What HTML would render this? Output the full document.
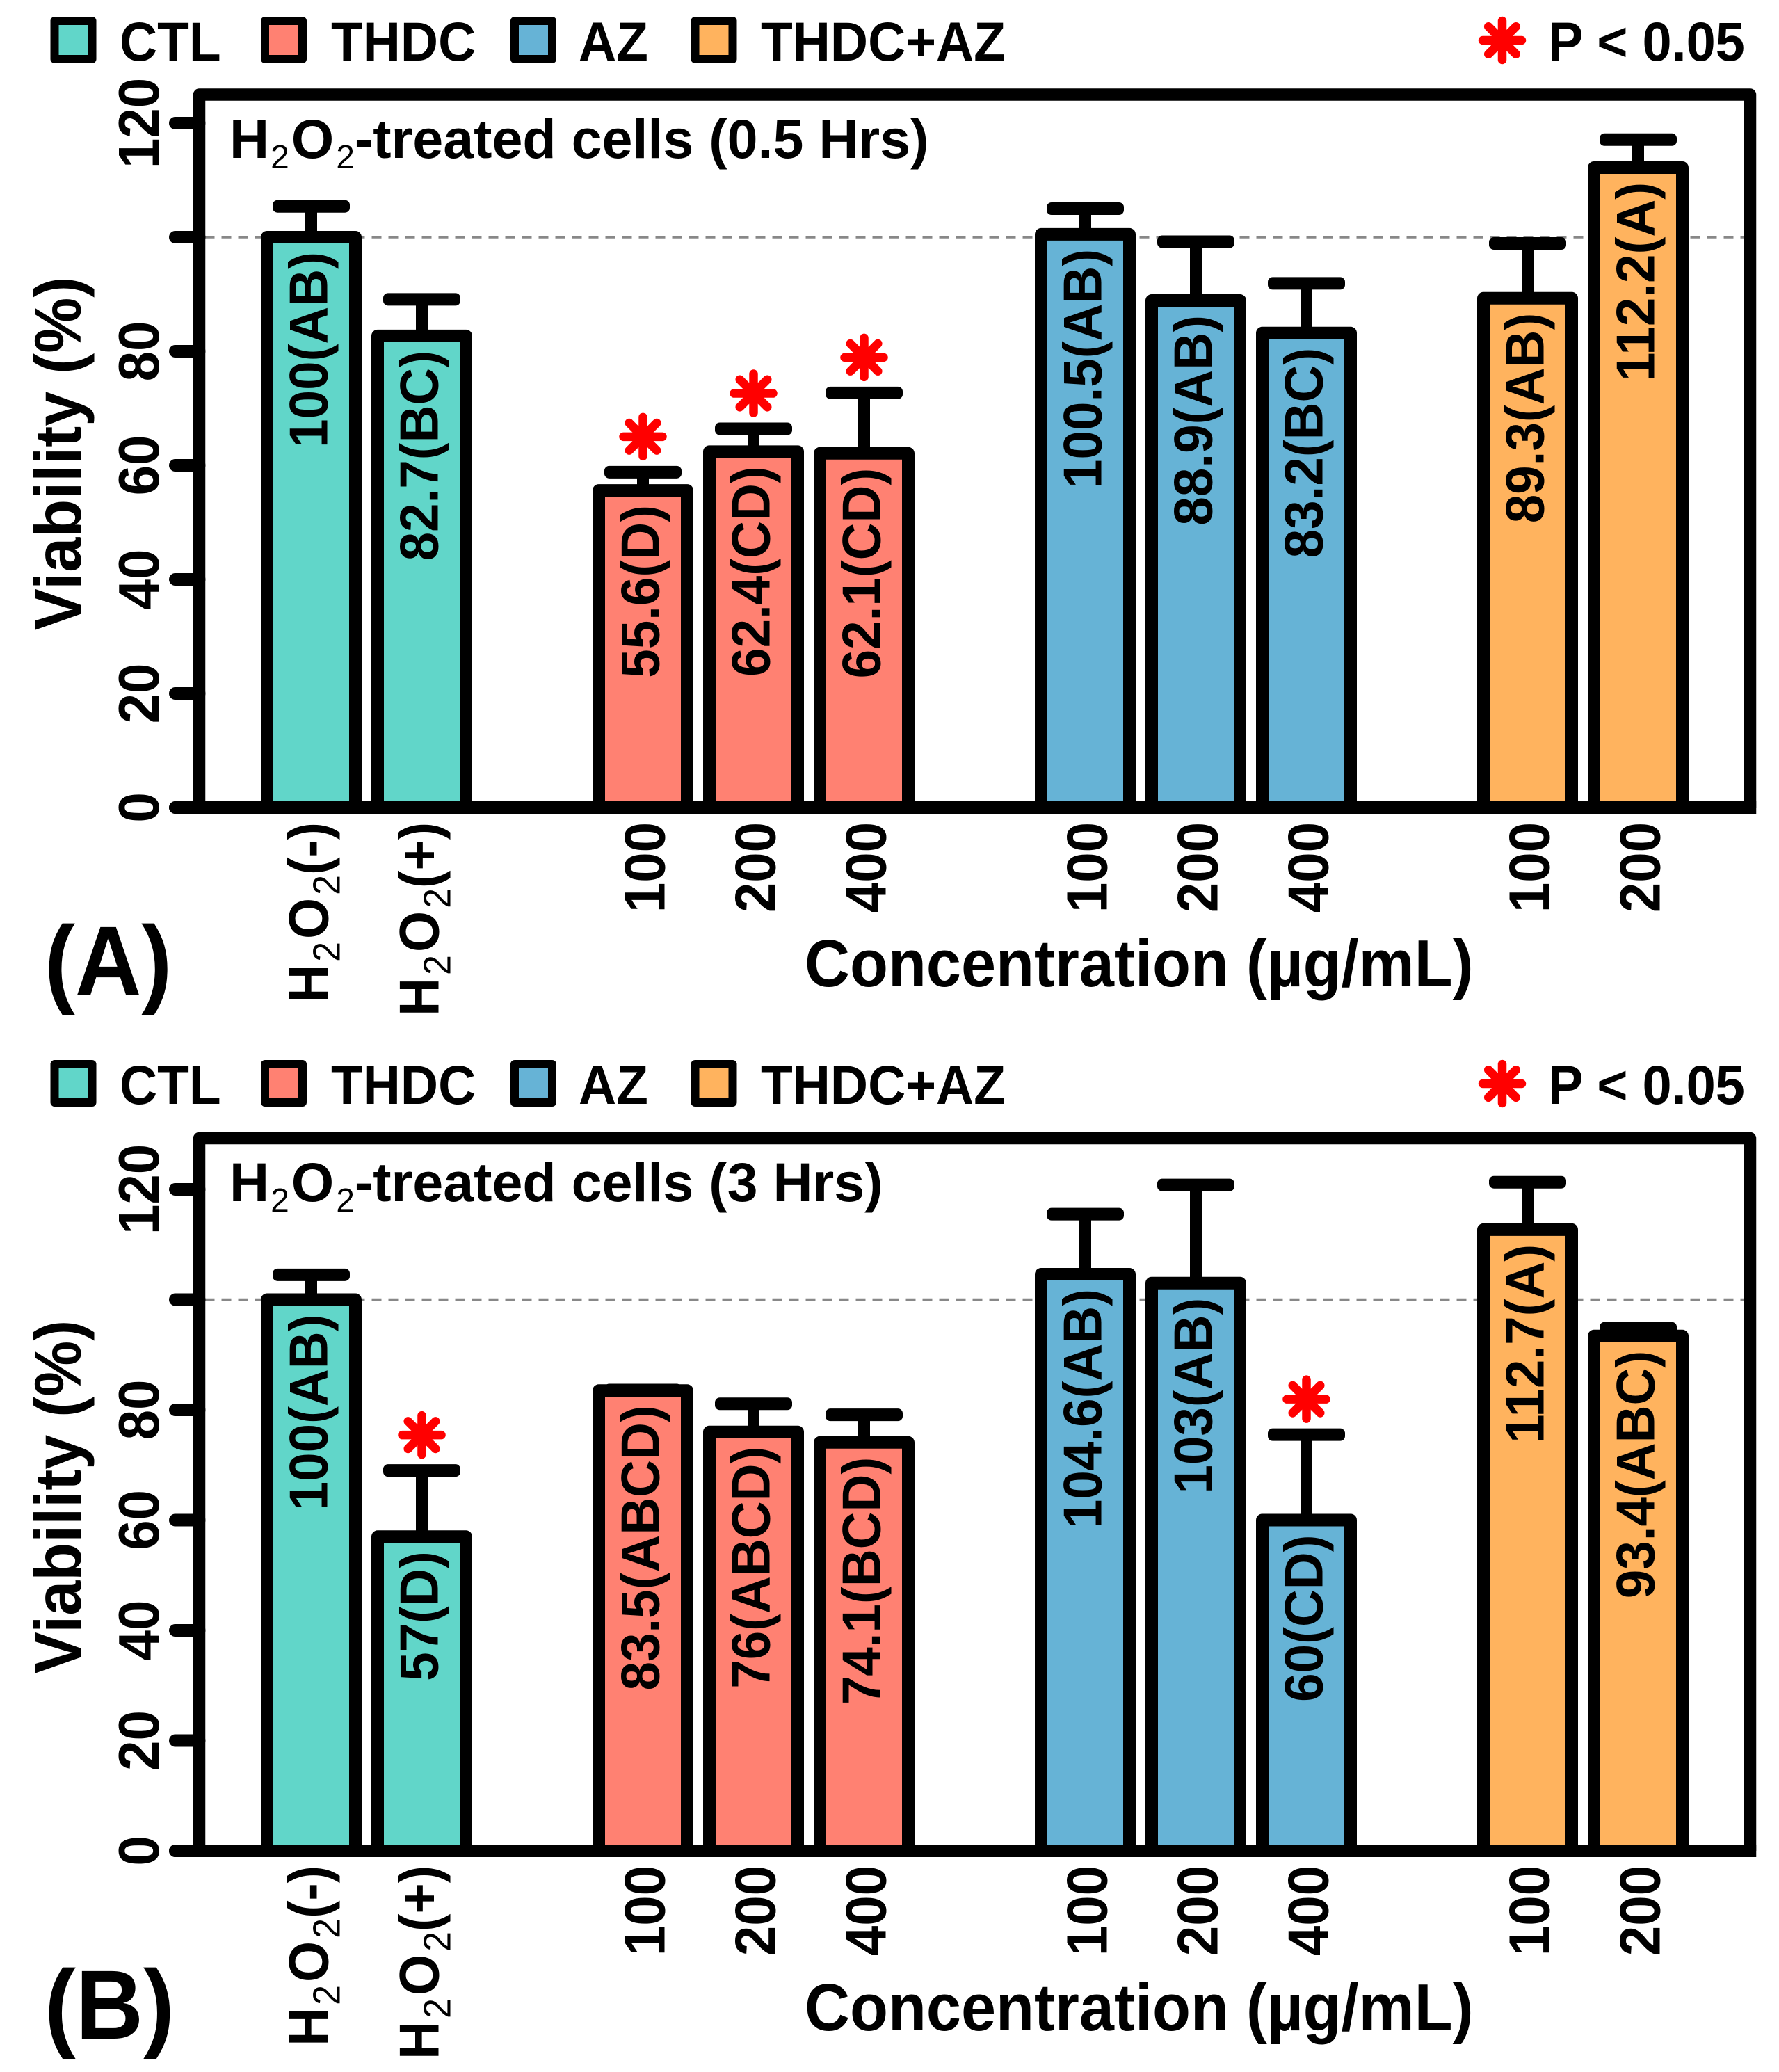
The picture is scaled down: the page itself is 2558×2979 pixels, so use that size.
<!DOCTYPE html>
<html lang="en">
<head>
<meta charset="utf-8">
<title>Viability of H2O2-treated cells</title>
<style>
html,body{margin:0;padding:0;background:#fff;}
svg{display:block;}
text{font-family:"Liberation Sans",Arial,sans-serif;font-weight:bold;fill:#000;}
.leg{font-size:78.5px;}
.ttl{font-size:79px;}
.sub{font-weight:normal;}
.axt{font-size:90px;}
.tag{font-size:132px;}
</style>
</head>
<body>
<svg id="figure" xmlns="http://www.w3.org/2000/svg" width="2558" height="2979" viewBox="0 0 2558 2979">
  <rect x="0" y="0" width="2558" height="2979" fill="#fff"/>

  <g id="panel-a"></g>
  <g id="panel-b"></g>

  <g id="legend-a">
    <rect x="78.5" y="30" width="54" height="55" fill="#61D6C9" stroke="#000" stroke-width="12" stroke-linejoin="round"/>
    <text class="leg" transform="translate(172 87) scale(.955 1)">CTL</text>
    <rect x="381" y="30" width="54" height="55" fill="#FF8172" stroke="#000" stroke-width="12" stroke-linejoin="round"/>
    <text class="leg" transform="translate(476 87) scale(.955 1)">THDC</text>
    <rect x="740" y="30" width="54" height="55" fill="#66B3D6" stroke="#000" stroke-width="12" stroke-linejoin="round"/>
    <text class="leg" transform="translate(832 87) scale(.955 1)">AZ</text>
    <rect x="999.5" y="30" width="54" height="55" fill="#FFB35E" stroke="#000" stroke-width="12" stroke-linejoin="round"/>
    <text class="leg" transform="translate(1094 87) scale(.955 1)">THDC+AZ</text>
    <text class="leg" transform="translate(2226 87) scale(.965 1)">P &lt; 0.05</text>
  </g>
  <g id="legend-b">
    <rect x="78.5" y="1530" width="54" height="55" fill="#61D6C9" stroke="#000" stroke-width="12" stroke-linejoin="round"/>
    <text class="leg" transform="translate(172 1587) scale(.955 1)">CTL</text>
    <rect x="381" y="1530" width="54" height="55" fill="#FF8172" stroke="#000" stroke-width="12" stroke-linejoin="round"/>
    <text class="leg" transform="translate(476 1587) scale(.955 1)">THDC</text>
    <rect x="740" y="1530" width="54" height="55" fill="#66B3D6" stroke="#000" stroke-width="12" stroke-linejoin="round"/>
    <text class="leg" transform="translate(832 1587) scale(.955 1)">AZ</text>
    <rect x="999.5" y="1530" width="54" height="55" fill="#FFB35E" stroke="#000" stroke-width="12" stroke-linejoin="round"/>
    <text class="leg" transform="translate(1094 1587) scale(.955 1)">THDC+AZ</text>
    <text class="leg" transform="translate(2226 1587) scale(.965 1)">P &lt; 0.05</text>
  </g>

  <text class="ttl" x="330" y="227">H<tspan class="sub" font-size="48" dx="2" dy="15">2</tspan><tspan dx="3" dy="-15">O</tspan><tspan class="sub" font-size="48" dx="3" dy="15">2</tspan><tspan dy="-15">-treated cells (0.5 Hrs)</tspan></text>
  <text class="ttl" x="330" y="1727">H<tspan class="sub" font-size="48" dx="2" dy="15">2</tspan><tspan dx="3" dy="-15">O</tspan><tspan class="sub" font-size="48" dx="3" dy="15">2</tspan><tspan dy="-15">-treated cells (3 Hrs)</tspan></text>

  <text class="axt" text-anchor="middle" transform="translate(116 652) rotate(-90) scale(1 1.05)">Viability (%)</text>
  <text class="axt" text-anchor="middle" transform="translate(116 2152) rotate(-90) scale(1 1.05)">Viability (%)</text>

  <text class="axt" transform="translate(1157 1418) scale(1 1.06)">Concentration (µg/mL)</text>
  <text class="axt" transform="translate(1157 2919) scale(1 1.06)">Concentration (µg/mL)</text>

  <text class="tag" transform="translate(64 1430) scale(1 1.07)">(A)</text>
  <text class="tag" transform="translate(64 2931) scale(1.02 1.07)">(B)</text>
</svg>

<script>
// ---- chart data ----
const categories = ["H2O2(-)", "H2O2(+)", "100", "200", "400", "100", "200", "400", "100", "200"];
const treatmentGroups = ["CTL", "CTL", "THDC", "THDC", "THDC", "AZ", "AZ", "AZ", "THDC+AZ", "THDC+AZ"];

const barValuesA = [100, 82.7, 55.6, 62.4, 62.1, 100.5, 88.9, 83.2, 89.3, 112.2];
const errorTopsA = [105.4, 89.1, 58.8, 66.4, 72.7, 105, 99.2, 91.9, 98.9, 117.1];
const lettersA = ["AB", "BC", "D", "CD", "CD", "AB", "AB", "BC", "AB", "A"];
const significantA = [0, 0, 1, 1, 1, 0, 0, 0, 0, 0];

const barValuesB = [100, 57, 83.5, 76, 74.1, 104.6, 103, 60, 112.7, 93.4];
const errorTopsB = [104.5, 69, 83.6, 81.1, 79.1, 115.5, 120.8, 75.5, 121.3, 94.8];
const lettersB = ["AB", "D", "ABCD", "ABCD", "BCD", "AB", "AB", "CD", "A", "ABC"];
const significantB = [0, 1, 0, 0, 0, 0, 0, 1, 0, 0];

const yTickValues = [0, 20, 40, 60, 80, 100, 120];
const yTickLabels = ["0", "20", "40", "60", "80", "", "120"];
const referenceLevel = 100;

// ---- styles / layout ----
const groupColors = { "CTL": "#61D6C9", "THDC": "#FF8172", "AZ": "#66B3D6", "THDC+AZ": "#FFB35E" };
const NS = "http://www.w3.org/2000/svg";
const SW = 18;
const X0 = 447.5, STEP = 159, BAR_HALF = 63.5, CAP_HALF = 55.5;
const FRAME_L = 286.5, FRAME_R = 2516.5, TICK_X = 252;

function slotOf(i) {
  let slot = 0;
  for (let k = 1; k <= i; k++) {
    slot += treatmentGroups[k] === treatmentGroups[k - 1] ? 1 : 2;
  }
  return slot;
}
function xScale(i) { return X0 + STEP * slotOf(i); }

function el(tag, parent, attrs) {
  const n = document.createElementNS(NS, tag);
  for (const k in attrs) n.setAttribute(k, attrs[k]);
  parent.appendChild(n);
  return n;
}

function drawStar(parent, cx, cy) {
  const g = el("g", parent, { stroke: "#FF0000", "stroke-width": 12.5, "stroke-linecap": "round" });
  
  
  for (let k = 0; k < 4; k++) {
    const a = k * Math.PI / 4;
    const dx = 28 * Math.cos(a), dy = 28 * Math.sin(a);
    const spoke = el("line", g, { x1: cx - dx, y1: cy - dy, x2: cx + dx, y2: cy + dy });
    
    
  }
}

function drawCategoryLabel(parent, label, cx, axisY) {
  const topY = axisY + 21;
  if (label.indexOf("H2O2") === 0) {
    const t = el("text", parent, {
      "text-anchor": "end", "font-size": 76,
      transform: "translate(" + (cx + 24) + " " + topY + ") rotate(-90) scale(1 1.06)"
    });
    
    
    const parts = [["H", 0, ""], ["2", 16, "sub"], ["O", -16, ""], ["2", 16, "sub"], [label.slice(4), -16, ""]];
    parts.forEach(function (p, idx) {
      const s = el("tspan", t, {});
      s.textContent = p[0];
      if (p[1]) s.setAttribute("dy", p[1]);
      if (idx > 0 && idx < 4) s.setAttribute("dx", 4);
      if (p[2]) { s.setAttribute("class", "sub"); s.setAttribute("font-size", 52); }
    });
  } else {
    const t = el("text", parent, {
      "text-anchor": "end", "font-size": 78,
      transform: "translate(" + (cx + 31) + " " + topY + ") rotate(-90) scale(1 1.06)"
    });
    
    
    t.textContent = label;
  }
}

function drawPanel(root, cfg, values, errorTops, letters, significant) {
  const yScale = function (v) { return cfg.y0 - v * cfg.ppu; };

  const refLine = el("line", root, {
    x1: FRAME_L + 8, x2: FRAME_R - 8, y1: yScale(referenceLevel), y2: yScale(referenceLevel),
    stroke: "#888", "stroke-width": 3.5, "stroke-dasharray": "14 10"
  });
  
  

  values.forEach(function (v, i) {
    const cx = xScale(i);
    const capY = yScale(errorTops[i]);

    const stem = el("line", root, { x1: cx, x2: cx, y1: capY, y2: yScale(v), stroke: "#000", "stroke-width": 17 });
    
    

    const cap = el("rect", root, { x: cx - CAP_HALF, y: capY - SW / 2, width: CAP_HALF * 2, height: SW, rx: 7, ry: 7, fill: "#000" });
    
    

    const bar = el("rect", root, {
      x: cx - BAR_HALF, y: yScale(v), width: BAR_HALF * 2, height: v * cfg.ppu,
      fill: groupColors[treatmentGroups[i]], stroke: "#000", "stroke-width": SW, "stroke-linejoin": "round"
    });
    
    

    const lab = el("text", root, {
      "text-anchor": "end", "font-size": 74.6,
      transform: "translate(" + (cx + 23) + " " + (yScale(v) + 21) + ") rotate(-90) scale(1 1.05)"
    });
    
    
    lab.textContent = v + "(" + letters[i] + ")";

    if (significant[i]) drawStar(root, cx, capY - 51);

    drawCategoryLabel(root, categories[i], cx, cfg.y0);
  });

  const frame = el("path", root, {
    d: "M" + FRAME_L + " " + cfg.y0 + "V" + cfg.top + "H" + FRAME_R + "V" + cfg.y0,
    fill: "none", stroke: "#000", "stroke-width": 17.5, "stroke-linejoin": "round"
  });
  
  

  yTickValues.forEach(function (t, i) {
    const y = yScale(t);
    const tick = el("line", root, { x1: FRAME_L, x2: TICK_X, y1: y, y2: y, stroke: "#000", "stroke-width": SW, "stroke-linecap": "round" });
    
    
    if (yTickLabels[i]) {
      const lab = el("text", root, {
        "text-anchor": "middle", "font-size": 78,
        transform: "translate(228 " + y + ") rotate(-90) scale(1 1.06)"
      });
      
      
      lab.textContent = yTickLabels[i];
    }
  });

  const axis = el("line", root, { x1: TICK_X, x2: FRAME_R + 8.75, y1: cfg.y0, y2: cfg.y0, stroke: "#000", "stroke-width": SW, "stroke-linecap": "butt" });
  
  
  const axisEnd = el("circle", root, { cx: TICK_X, cy: cfg.y0, r: SW / 2, fill: "#000" });
  
  
}

drawPanel(document.getElementById("panel-a"), { y0: 1161, ppu: 8.2, top: 136 }, barValuesA, errorTopsA, lettersA, significantA);
drawPanel(document.getElementById("panel-b"), { y0: 2661, ppu: 7.925, top: 1636.5 }, barValuesB, errorTopsB, lettersB, significantB);
drawStar(document.getElementById("legend-a"), 2160, 58);
drawStar(document.getElementById("legend-b"), 2160, 1558);
</script>
</body>
</html>
